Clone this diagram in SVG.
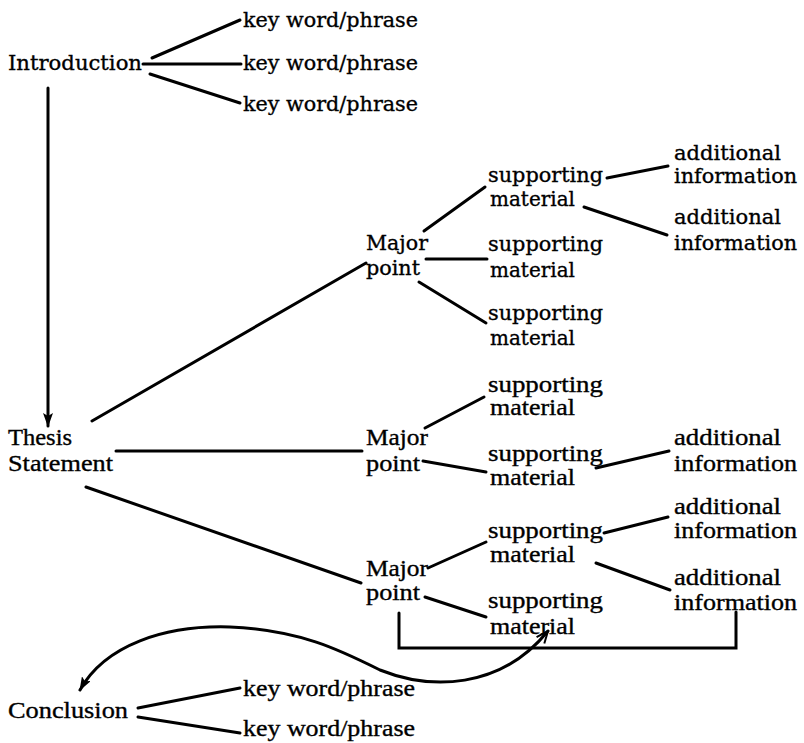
<svg xmlns="http://www.w3.org/2000/svg" width="804" height="743" viewBox="0 0 804 743">
<style>
.a{font-family:"DejaVu Serif","Liberation Serif",serif;font-size:21px;fill:#000;stroke:#000;stroke-width:0.35}
.b{font-family:"Liberation Serif","DejaVu Serif",serif;font-size:23px;fill:#000;stroke:#000;stroke-width:0.35}
.c{stroke:#000;stroke-width:3;fill:none;stroke-linecap:round}
</style>
<defs>
<marker id="fill" viewBox="0 0 14 10" refX="13" refY="5" markerWidth="14" markerHeight="10" markerUnits="userSpaceOnUse" orient="auto-start-reverse">
<path d="M0,0 L14,5 L0,10 L3,5 Z" fill="#000"/>
</marker>
<marker id="open" viewBox="0 0 14 12" refX="13" refY="6" markerWidth="14" markerHeight="12" markerUnits="userSpaceOnUse" orient="auto">
<path d="M1,1 L13,6 L1,11" fill="none" stroke="#000" stroke-width="2"/>
</marker>
</defs>
<rect width="804" height="743" fill="#fff"/>
<g id="connectors" class="c">
<line x1="152" y1="58" x2="240" y2="20"/>
<line x1="143" y1="64" x2="241" y2="64"/>
<line x1="150" y1="74" x2="240" y2="103"/>
<line x1="48" y1="88" x2="48" y2="426" marker-end="url(#fill)"/>
<line x1="92" y1="421" x2="366" y2="263"/>
<line x1="116" y1="451" x2="362" y2="451"/>
<line x1="86" y1="487" x2="361" y2="583"/>
<line x1="424" y1="231" x2="485" y2="187"/>
<line x1="426" y1="259" x2="487" y2="259"/>
<line x1="419" y1="282" x2="486" y2="323"/>
<line x1="607" y1="178" x2="668" y2="166"/>
<line x1="584" y1="207" x2="667" y2="235"/>
<line x1="425" y1="428" x2="484" y2="397"/>
<line x1="423" y1="461" x2="486" y2="472"/>
<line x1="596" y1="468" x2="669" y2="451"/>
<line x1="428" y1="568" x2="486" y2="542"/>
<line x1="425" y1="597" x2="486" y2="617"/>
<line x1="604" y1="533" x2="668" y2="517"/>
<line x1="596" y1="563" x2="670" y2="590"/>
<polyline points="399,613 399,648 736,648 736,612"/>
<path d="M80,690 C105,645 165,625 230,627 C300,630 340,650 380,670 C430,690 500,690 548,631" marker-start="url(#fill)" marker-end="url(#open)"/>
<line x1="138" y1="708" x2="240" y2="688"/>
<line x1="138" y1="717" x2="240" y2="733"/>
</g>
<g id="introduction"><text class="a" x="8" y="70" textLength="134" lengthAdjust="spacingAndGlyphs">Introduction</text></g>
<g id="kw1"><text class="a" x="243" y="27" textLength="175" lengthAdjust="spacingAndGlyphs">key word/phrase</text></g>
<g id="kw2"><text class="a" x="243" y="70" textLength="175" lengthAdjust="spacingAndGlyphs">key word/phrase</text></g>
<g id="kw3"><text class="a" x="243" y="111" textLength="175" lengthAdjust="spacingAndGlyphs">key word/phrase</text></g>
<g id="major1"><text class="a" x="366" y="250" textLength="62" lengthAdjust="spacingAndGlyphs">Major</text><text class="a" x="366" y="275" textLength="54" lengthAdjust="spacingAndGlyphs">point</text></g>
<g id="sm1"><text class="a" x="488" y="182" textLength="115" lengthAdjust="spacingAndGlyphs">supporting</text><text class="a" x="490" y="206" textLength="85" lengthAdjust="spacingAndGlyphs">material</text></g>
<g id="ai1"><text class="a" x="674" y="160" textLength="107" lengthAdjust="spacingAndGlyphs">additional</text><text class="a" x="674" y="183" textLength="123" lengthAdjust="spacingAndGlyphs">information</text></g>
<g id="ai2"><text class="a" x="674" y="224" textLength="107" lengthAdjust="spacingAndGlyphs">additional</text><text class="a" x="674" y="250" textLength="123" lengthAdjust="spacingAndGlyphs">information</text></g>
<g id="sm2"><text class="a" x="488" y="251" textLength="115" lengthAdjust="spacingAndGlyphs">supporting</text><text class="a" x="490" y="277" textLength="85" lengthAdjust="spacingAndGlyphs">material</text></g>
<g id="sm3"><text class="a" x="488" y="320" textLength="115" lengthAdjust="spacingAndGlyphs">supporting</text><text class="a" x="490" y="345" textLength="85" lengthAdjust="spacingAndGlyphs">material</text></g>
<g id="thesis"><text class="b" x="8" y="445" textLength="64" lengthAdjust="spacingAndGlyphs">Thesis</text><text class="b" x="8" y="471" textLength="105" lengthAdjust="spacingAndGlyphs">Statement</text></g>
<g id="major2"><text class="b" x="366" y="445" textLength="62" lengthAdjust="spacingAndGlyphs">Major</text><text class="b" x="366" y="471" textLength="54" lengthAdjust="spacingAndGlyphs">point</text></g>
<g id="sm4"><text class="b" x="488" y="392" textLength="115" lengthAdjust="spacingAndGlyphs">supporting</text><text class="b" x="490" y="415" textLength="85" lengthAdjust="spacingAndGlyphs">material</text></g>
<g id="sm5"><text class="b" x="488" y="461" textLength="115" lengthAdjust="spacingAndGlyphs">supporting</text><text class="b" x="490" y="485" textLength="85" lengthAdjust="spacingAndGlyphs">material</text></g>
<g id="ai3"><text class="b" x="674" y="445" textLength="107" lengthAdjust="spacingAndGlyphs">additional</text><text class="b" x="674" y="471" textLength="123" lengthAdjust="spacingAndGlyphs">information</text></g>
<g id="ai4"><text class="b" x="674" y="514" textLength="107" lengthAdjust="spacingAndGlyphs">additional</text><text class="b" x="674" y="538" textLength="123" lengthAdjust="spacingAndGlyphs">information</text></g>
<g id="sm6"><text class="b" x="488" y="538" textLength="115" lengthAdjust="spacingAndGlyphs">supporting</text><text class="b" x="490" y="562" textLength="85" lengthAdjust="spacingAndGlyphs">material</text></g>
<g id="major3"><text class="b" x="366" y="576" textLength="62" lengthAdjust="spacingAndGlyphs">Major</text><text class="b" x="366" y="600" textLength="54" lengthAdjust="spacingAndGlyphs">point</text></g>
<g id="ai5"><text class="b" x="674" y="585" textLength="107" lengthAdjust="spacingAndGlyphs">additional</text><text class="b" x="674" y="610" textLength="123" lengthAdjust="spacingAndGlyphs">information</text></g>
<g id="sm7"><text class="b" x="488" y="608" textLength="115" lengthAdjust="spacingAndGlyphs">supporting</text><text class="b" x="490" y="634" textLength="85" lengthAdjust="spacingAndGlyphs">material</text></g>
<g id="conclusion"><text class="b" x="8" y="718" textLength="120" lengthAdjust="spacingAndGlyphs">Conclusion</text></g>
<g id="kw4"><text class="b" x="243" y="696" textLength="172" lengthAdjust="spacingAndGlyphs">key word/phrase</text></g>
<g id="kw5"><text class="b" x="243" y="736" textLength="172" lengthAdjust="spacingAndGlyphs">key word/phrase</text></g>
</svg>
